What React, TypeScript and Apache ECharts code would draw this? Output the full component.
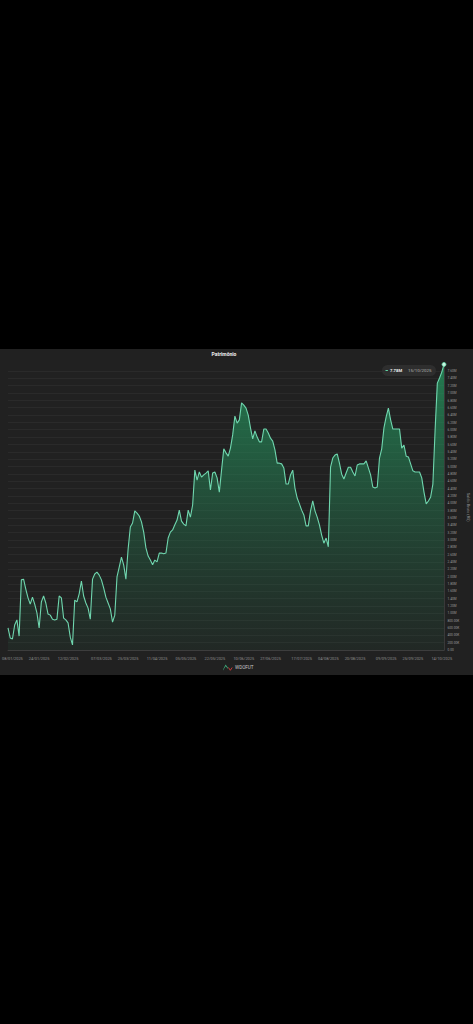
import React, { useEffect, useRef } from "react";
import * as echarts from "echarts";

const TITLE = "Patrimônio";
const SERIES_NAME = "WDOFUT";
const Y_NAME = "Saldo Bruto (R$)";
const LAST_DATE = "15/10/2025";

const holidays = ["2025-03-03", "2025-03-04", "2025-04-18", "2025-04-21", "2025-05-01", "2025-06-19"];
const tickDates = [
  "08/01/2025", "24/01/2025", "12/02/2025", "07/03/2025", "25/03/2025", "11/04/2025", "05/05/2025", "22/05/2025",
  "10/06/2025", "27/06/2025", "17/07/2025", "04/08/2025", "20/08/2025", "09/09/2025", "25/09/2025", "14/10/2025",
];

const values = [
  0.60, 0.33, 0.30, 0.68, 0.82, 0.38, 1.91, 1.93, 1.66, 1.42, 1.25, 1.44, 1.25, 1.01, 0.60, 1.31, 1.47, 1.28, 0.98, 0.95,
  0.84, 0.82, 0.84, 1.47, 1.42, 0.87, 0.82, 0.74, 0.35, 0.14, 1.36, 1.31, 1.53, 1.88, 1.47, 1.28, 1.14, 0.84, 1.93, 2.07,
  2.12, 2.04, 1.91, 1.69, 1.44, 1.28, 1.12, 0.76, 0.95, 1.99, 2.26, 2.53, 2.32, 1.93, 2.75, 3.35, 3.46, 3.79, 3.73, 3.65,
  3.49, 3.21, 2.78, 2.56, 2.45, 2.32, 2.45, 2.40, 2.64, 2.64, 2.62, 2.64, 3.05, 3.21, 3.27, 3.41, 3.54, 3.81, 3.51, 3.43,
  3.38, 3.81, 3.62, 3.95, 4.90, 4.63, 4.85, 4.71, 4.77, 4.82, 4.88, 4.36, 4.82, 4.85, 4.69, 4.30, 4.90, 5.48, 5.37, 5.28,
  5.50, 5.86, 6.37, 6.18, 6.27, 6.73, 6.67, 6.59, 6.40, 6.05, 5.75, 5.97, 5.80, 5.67, 5.67, 6.02, 6.02, 5.91, 5.77, 5.69,
  5.45, 5.09, 5.09, 5.07, 4.96, 4.52, 4.52, 4.77, 4.90, 4.41, 4.14, 3.98, 3.81, 3.68, 3.38, 3.38, 3.79, 4.06, 3.79, 3.62,
  3.41, 3.13, 2.91, 3.05, 2.81, 4.98, 5.23, 5.31, 5.34, 5.09, 4.79, 4.66, 4.82, 4.98, 4.98, 4.85, 4.74, 5.04, 5.07, 5.07,
  5.07, 5.15, 4.96, 4.77, 4.44, 4.41, 4.44, 5.23, 5.48, 6.05, 6.35, 6.59, 6.27, 6.02, 6.02, 6.02, 6.02, 5.50, 5.58, 5.28,
  5.26, 5.07, 4.88, 4.85, 4.85, 4.85, 4.69, 4.30, 3.98, 4.06, 4.17, 4.52, 5.99, 7.27, 7.41, 7.57, 7.78,
];

function tradingDays(start: string, count: number): string[] {
  const out: string[] = [];
  const d = new Date(start + "T12:00:00Z");
  while (out.length < count) {
    const iso = d.toISOString().slice(0, 10);
    const wd = d.getUTCDay();
    if (wd !== 0 && wd !== 6 && !holidays.includes(iso)) {
      const [y, m, dd] = iso.split("-");
      out.push(`${dd}/${m}/${y}`);
    }
    d.setUTCDate(d.getUTCDate() + 1);
  }
  return out;
}

const categories = tradingDays("2025-01-06", values.length);

function fmtY(v: number): string {
  if (v === 0) return "0.00";
  if (v < 1) return `${(v * 1000).toFixed(2)}K`;
  return `${v.toFixed(2)}M`;
}

export default function App() {
  const ref = useRef<HTMLDivElement>(null);
  useEffect(() => {
    document.body.style.margin = "0";
    document.body.style.background = "#000";
    const chart = echarts.init(ref.current!, undefined, { renderer: "svg" });
    const last = values.length - 1;
    chart.setOption({
      animation: false,
      backgroundColor: "#000000",
      textStyle: { fontFamily: "Roboto, sans-serif" },
      title: {
        text: TITLE,
        left: 224,
        top: 351.5,
        padding: 0,
        textAlign: "center",
        textStyle: { color: "#f0f0f0", fontSize: 5, fontWeight: "bold", fontFamily: "Roboto, sans-serif" },
      },
      legend: {
        data: [SERIES_NAME],
        left: 223,
        top: 664.5,
        itemWidth: 9,
        itemHeight: 6,
        itemGap: 3,
        padding: 0,
        icon: "path://M0 6 L3 0 L6 4 L6 5.2 L3 2 L0 7 Z",
        itemStyle: { color: "#3fa878" },
        textStyle: { color: "#c8c8c8", fontSize: 4.6, padding: [0, 0, 0, 0] },
      },
      grid: { left: 8, right: 29, top: 364.4, bottom: 374, outerBoundsMode: "none" },
      xAxis: {
        type: "category",
        data: categories,
        boundaryGap: false,
        axisLine: { show: true, lineStyle: { color: "#4a4a4a", width: 0.6 } },
        axisTick: { show: false },
        splitLine: { show: false },
        axisLabel: {
          color: "#8f8f8f",
          fontSize: 3.9,
          margin: 6,
          hideOverlap: false,
          interval: (_i: number, v: string) => tickDates.includes(v),
        },
      },
      yAxis: {
        type: "value",
        position: "right",
        min: 0,
        max: 7.78,
        interval: 0.2,
        name: Y_NAME,
        nameLocation: "middle",
        nameGap: 22,
        nameRotate: -90,
        nameMoveOverlap: false,
        nameTextStyle: { color: "#8a8a8a", fontSize: 4 },
        axisLine: { show: true, lineStyle: { color: "#4a4a4a", width: 0.6 } },
        axisTick: { show: false },
        axisLabel: { color: "#9a9a9a", fontSize: 3.2, margin: 3.5, showMaxLabel: false, formatter: fmtY },
        splitLine: { show: true, showMaxLine: false, lineStyle: { color: "rgba(255,255,255,0.06)", width: 0.8 } },
      },
      series: [
        {
          name: SERIES_NAME,
          type: "line",
          smooth: false,
          showSymbol: true,
          showAllSymbol: true,
          symbol: "none",
          clip: false,
          z: 2,
          lineStyle: { color: "#6fd6ae", width: 1.1 },
          itemStyle: { color: "#3fa878" },
          areaStyle: {
            color: new echarts.graphic.LinearGradient(0, 0, 0, 1, [
              { offset: 0, color: "rgba(36,160,100,1)" },
              { offset: 1, color: "rgba(38,120,80,0.12)" },
            ]),
          },
          data: values.map((v, i) =>
            i === last
              ? {
                  value: v,
                  symbol: "circle",
                  symbolSize: 4,
                  itemStyle: { color: "#c8f5e2", borderColor: "#5fd3a3", borderWidth: 0.8 },
                }
              : v,
          ),
        },
      ],
      graphic: [
        { type: "rect", z: -10, silent: true, shape: { x: 0, y: 349, width: 473, height: 326 }, style: { fill: "#212121" } },
        {
          type: "polyline",
          z: 5,
          silent: true,
          shape: { points: [[228.5, 667.5], [230.3, 670.3], [232.2, 667.5]] },
          style: { stroke: "#c23a3a", lineWidth: 1, fill: "none" },
        },
        { type: "rect", z: 5, silent: true, shape: { x: 382, y: 365, width: 54, height: 11, r: 5.5 }, style: { fill: "#2e2e2e" } },
        { type: "rect", z: 6, silent: true, shape: { x: 385.5, y: 370, width: 2.4, height: 1 }, style: { fill: "#5fd3a3" } },
        {
          type: "text",
          z: 6,
          silent: true,
          x: 390,
          y: 370.5,
          style: {
            text: fmtY(values[last]),
            fill: "#f2f2f2",
            font: "bold 4.2px Roboto, sans-serif",
            textVerticalAlign: "middle",
            verticalAlign: "middle",
          },
        },
        {
          type: "text",
          z: 6,
          silent: true,
          x: 408,
          y: 370.5,
          style: {
            text: LAST_DATE,
            fill: "#b5b5b5",
            font: "4.4px Roboto, sans-serif",
            textVerticalAlign: "middle",
            verticalAlign: "middle",
          },
        },
      ],
    });
    return () => chart.dispose();
  }, []);
  return <div ref={ref} style={{ position: "absolute", left: 0, top: 0, width: 473, height: 1024 }} />;
}
